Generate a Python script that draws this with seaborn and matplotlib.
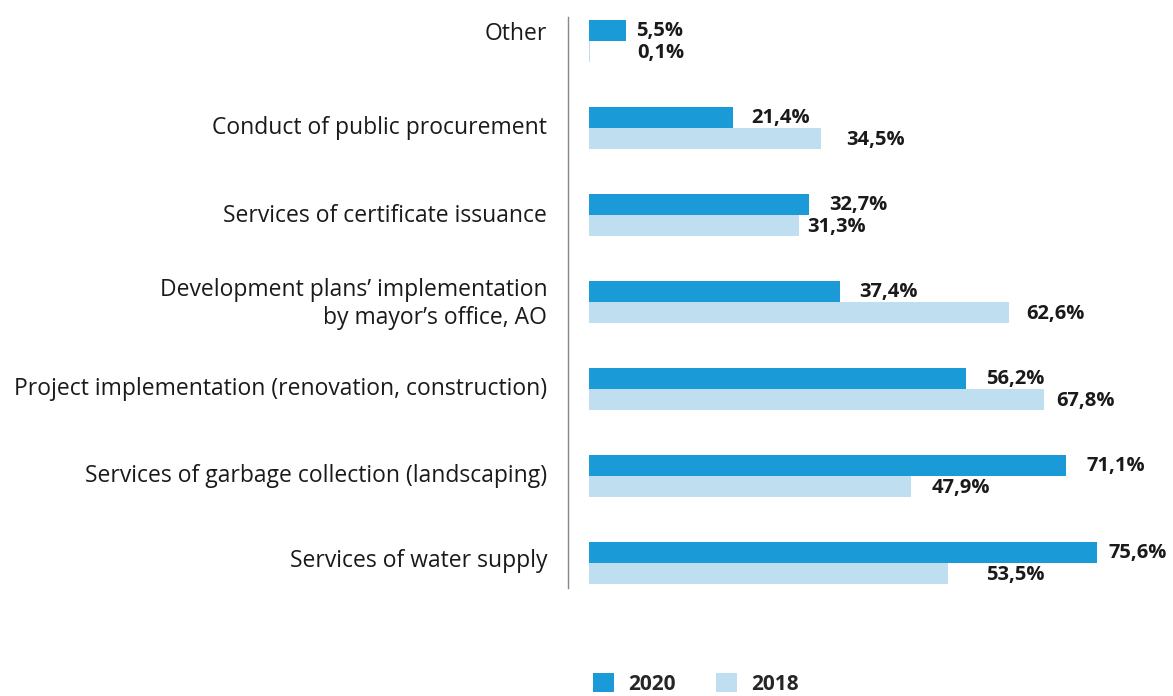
import numpy as np
import pandas as pd
import matplotlib
matplotlib.use("Agg")
import matplotlib.pyplot as plt
import matplotlib.transforms as mtransforms
import seaborn as sns
from matplotlib.patches import Patch

# data
categories = ["Other",
              "Conduct of public procurement",
              "Services of certificate issuance",
              "Development plans’ implementation\nby mayor’s office, AO",
              "Project implementation (renovation, construction)",
              "Services of garbage collection (landscaping)",
              "Services of water supply"]
values_2020 = [5.5, 21.4, 32.7, 37.4, 56.2, 71.1, 75.6]
values_2018 = [0.1, 34.5, 31.3, 62.6, 67.8, 47.9, 53.5]
years = ["2020", "2018"]
colors = {"2020": "#1a9bd7", "2018": "#bfdef0"}

# horizontal gap (px) between bar end and its value label, as placed in the original
gap_2020 = [10, 18, 20, 19, 20, 20, 12]
gap_2018 = [47, 25, 8, 17, 12, 21, 38]
# vertical nudge (px, up) of the category labels
label_lift = [10, 3, 2, 3, 3, 3, 5]

df = pd.DataFrame({
    "category": categories * 2,
    "value": values_2020 + values_2018,
    "year": ["2020"] * len(categories) + ["2018"] * len(categories),
})

sns.set_style("white")
plt.rcParams["font.family"] = ["Open Sans", "DejaVu Sans"]

fig = plt.figure(figsize=(11.73, 6.96), dpi=100)
ax = fig.add_axes([568 / 1173, 1 - 588 / 696, 1 - 568 / 1173, (588 - 17) / 696])

sns.barplot(data=df, x="value", y="category", hue="year", hue_order=years,
            palette=colors, orient="h", width=0.48, gap=0, saturation=1,
            linewidth=0, legend=False, ax=ax)

px = 0.72  # points per pixel at dpi 100
for i, (v20, v18) in enumerate(zip(values_2020, values_2018)):
    ax.annotate(f"{v20:.1f}%".replace(".", ","), (v20, i - 0.12),
                xytext=(gap_2020[i] * px, 0), textcoords="offset points",
                ha="left", va="center", fontsize=14.5, fontweight="bold",
                color="#1a1a1a")
    ax.annotate(f"{v18:.1f}%".replace(".", ","), (v18, i + 0.12),
                xytext=(gap_2018[i] * px, -2 * px), textcoords="offset points",
                ha="left", va="center", fontsize=14.5, fontweight="bold",
                color="#1a1a1a")

ax.set_xlim(-3.2, 87)
ax.set_ylim(6 + 25 / 87, -24 / 87)
ax.set_xlabel("")
ax.set_ylabel("")
ax.set_xticks([])
ax.tick_params(axis="y", length=0, pad=15, labelsize=16.5, labelcolor="#1a1a1a")
for k, lab in enumerate(ax.get_yticklabels()):
    lab.set_horizontalalignment("right")
    lab.set_multialignment("right")
    lab.set_transform(lab.get_transform() + mtransforms.ScaledTranslation(
        0, label_lift[k] / 100, fig.dpi_scale_trans))
for side in ["top", "right", "bottom"]:
    ax.spines[side].set_visible(False)
ax.spines["left"].set_color("#888888")
ax.spines["left"].set_linewidth(1)

handles = [Patch(facecolor=colors[y], edgecolor="none") for y in years]
fig.legend(handles, years, loc="center", ncol=2, frameon=False,
           bbox_to_anchor=(696 / 1173, 1 - 684 / 696),
           handlelength=1.0, handleheight=1.0, handletextpad=0.7,
           columnspacing=1.9, prop={"size": 15, "weight": "bold"})

fig.savefig("out.png", dpi=100)
